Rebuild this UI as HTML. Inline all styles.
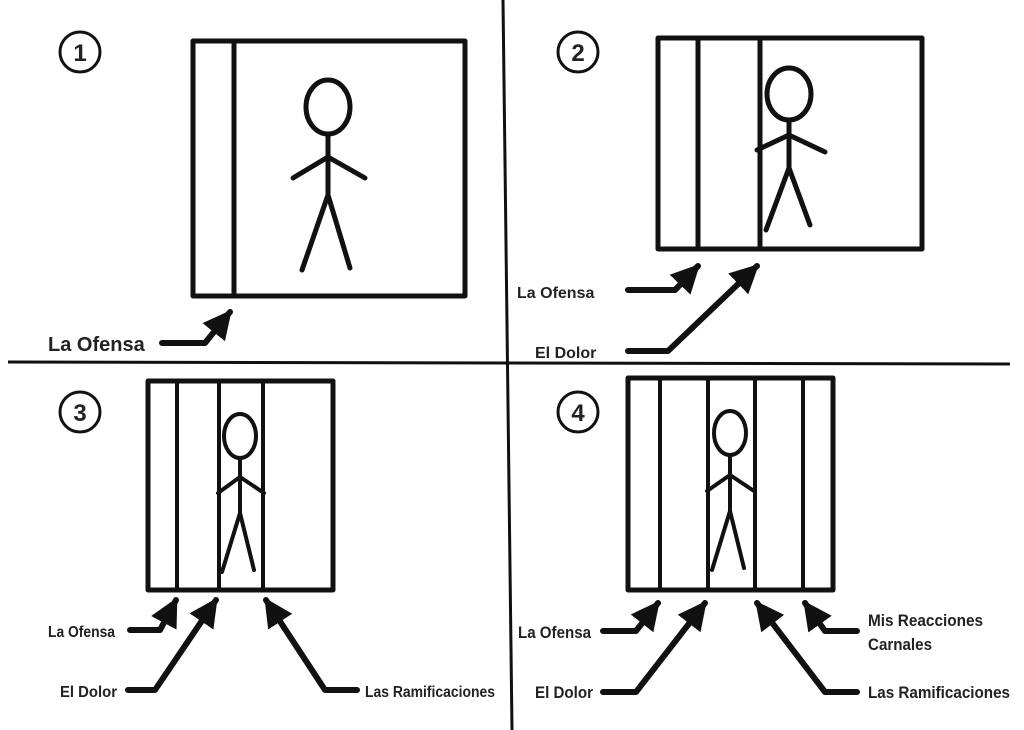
<!DOCTYPE html>
<html><head><style>
html,body{margin:0;padding:0;background:#fff;}
svg{display:block;}
text{font-family:"Liberation Sans",Arial,sans-serif;font-weight:bold;fill:#222;}
</style></head><body>
<svg width="1024" height="730" viewBox="0 0 1024 730" xmlns="http://www.w3.org/2000/svg">
<defs>
<marker id="ah" viewBox="0 0 10 10" refX="9" refY="5" markerWidth="4.8" markerHeight="4.8" orient="auto" markerUnits="strokeWidth">
<path d="M0,0 L10,5 L0,10 z" fill="#111"/>
</marker>
</defs>
<rect width="1024" height="730" fill="#fff"/>
<g stroke="#111" stroke-width="3" fill="none">
<line x1="8" y1="362" x2="1010" y2="364"/>
<line x1="503" y1="0" x2="512" y2="730"/>
</g>
<g stroke="#111" stroke-width="3" fill="#fff">
<circle cx="80" cy="52" r="20"/><circle cx="578" cy="52" r="20"/>
<circle cx="80" cy="412" r="20"/><circle cx="578" cy="412" r="20"/>
</g>
<g font-size="24" text-anchor="middle">
<text x="80" y="61">1</text><text x="578" y="61">2</text>
<text x="80" y="421">3</text><text x="578" y="421">4</text>
</g>
<g stroke="#111" fill="none" stroke-linecap="round" stroke-linejoin="round">
<rect x="193" y="41" width="272" height="255" stroke-width="5"/>
<line x1="234" y1="41" x2="234" y2="296" stroke-width="5"/>
<g stroke-width="5">
<ellipse cx="328" cy="107" rx="22" ry="27"/>
<line x1="328" y1="134" x2="328" y2="195"/>
<polyline points="293,178 328,157 365,178"/>
<polyline points="302,270 328,195 350,268"/>
</g>
<rect x="658" y="38" width="264" height="211" stroke-width="5"/>
<line x1="698" y1="38" x2="698" y2="249" stroke-width="5"/>
<line x1="760" y1="38" x2="760" y2="249" stroke-width="5"/>
<g stroke-width="5">
<ellipse cx="789" cy="94" rx="22" ry="26"/>
<line x1="789" y1="120" x2="789" y2="168"/>
<polyline points="757,150 789,135 825,152"/>
<polyline points="766,230 789,168 810,225"/>
</g>
<rect x="148" y="381" width="185" height="209" stroke-width="5"/>
<g stroke-width="4">
<line x1="177" y1="381" x2="177" y2="590"/>
<line x1="219" y1="381" x2="219" y2="590"/>
<line x1="263" y1="381" x2="263" y2="590"/>
<ellipse cx="240" cy="436" rx="16" ry="22"/>
<line x1="240" y1="458" x2="240" y2="513"/>
<polyline points="218,493 240,477 264,493"/>
<polyline points="222,572 240,513 254,570"/>
</g>
<rect x="628" y="378" width="205" height="212" stroke-width="5"/>
<g stroke-width="4">
<line x1="660" y1="378" x2="660" y2="590"/>
<line x1="708" y1="378" x2="708" y2="590"/>
<line x1="755" y1="378" x2="755" y2="590"/>
<line x1="803" y1="378" x2="803" y2="590"/>
<ellipse cx="730" cy="433" rx="16" ry="22"/>
<line x1="730" y1="455" x2="730" y2="511"/>
<polyline points="707,491 730,475 754,491"/>
<polyline points="712,570 730,511 744,568"/>
</g>
<g stroke-width="6" marker-end="url(#ah)">
<polyline points="162,343 205,343 230,312"/>
<polyline points="628,290 675,290 698,266"/>
<polyline points="628,351 668,351 757,266"/>
<polyline points="130,630 160,630 176,600"/>
<polyline points="128,690 155,690 216,600"/>
<polyline points="357,690 325,690 266,600"/>
<polyline points="603,631 636,631 658,603"/>
<polyline points="603,692 636,692 705,603"/>
<polyline points="857,692 825,692 757,603"/>
<polyline points="857,631 825,631 805,603"/>
</g>
</g>
<g>
<text x="48" y="351" font-size="20">La Ofensa</text>
<text x="517" y="298" font-size="16">La Ofensa</text>
<text x="535" y="358" font-size="16">El Dolor</text>
<text x="48" y="637" font-size="16" textLength="67" lengthAdjust="spacingAndGlyphs">La Ofensa</text>
<text x="60" y="697" font-size="16" textLength="57" lengthAdjust="spacingAndGlyphs">El Dolor</text>
<text x="365" y="697" font-size="16" textLength="130" lengthAdjust="spacingAndGlyphs">Las Ramificaciones</text>
<text x="518" y="638" font-size="17" textLength="73" lengthAdjust="spacingAndGlyphs">La Ofensa</text>
<text x="535" y="698" font-size="17" textLength="58" lengthAdjust="spacingAndGlyphs">El Dolor</text>
<text x="868" y="698" font-size="17" textLength="142" lengthAdjust="spacingAndGlyphs">Las Ramificaciones</text>
<text x="868" y="626" font-size="17" textLength="115" lengthAdjust="spacingAndGlyphs">Mis Reacciones</text>
<text x="868" y="650" font-size="17" textLength="64" lengthAdjust="spacingAndGlyphs">Carnales</text>
</g>
</svg>
</body></html>
